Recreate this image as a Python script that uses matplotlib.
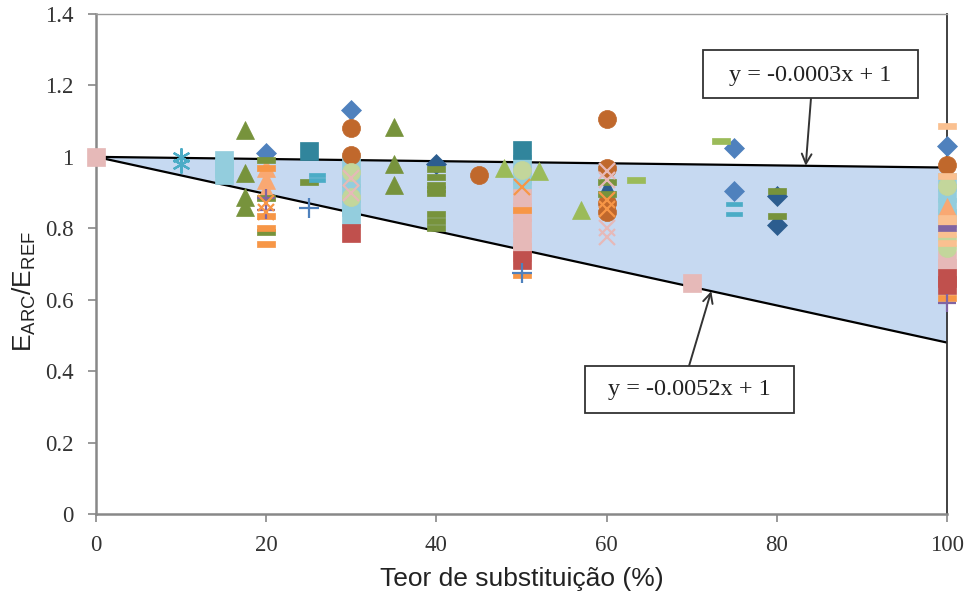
import matplotlib
matplotlib.use("Agg")
import matplotlib.pyplot as plt
from matplotlib.patches import Rectangle
from matplotlib.ticker import FuncFormatter

# ---------------- data ----------------
x_ticks = [0, 20, 40, 60, 80, 100]
y_ticks = [0, 0.2, 0.4, 0.6, 0.8, 1.0, 1.2, 1.4]

upper_slope, upper_icpt = -0.0003, 1.0
lower_slope, lower_icpt = -0.0052, 1.0
line_x = [0, 100]

# series (x, y)
ltblue_sq_x = [15, 15, 15, 30, 30, 30, 30, 30, 50, 50, 50, 100, 100, 100, 100]
ltblue_sq_y = [0.99, 0.97, 0.95, 0.98, 0.94, 0.90, 0.86, 0.83, 0.98, 0.95, 0.92, 0.93, 0.90, 0.86, 0.83]

pink_sq_x = [0, 50, 50, 50, 50, 50, 70, 100, 100]
pink_sq_y = [1.0, 0.885, 0.845, 0.80, 0.765, 0.735, 0.647, 0.71, 0.69]

cyan_ast_x = [10, 10]
cyan_ast_y = [1.0, 0.98]

olive_tri_x = [17.5, 17.5, 17.5, 17.5, 35, 35, 35]
olive_tri_y = [1.075, 0.955, 0.888, 0.86, 1.085, 0.98, 0.92]

ltgreen_tri_x = [48, 52, 57]
ltgreen_tri_y = [0.97, 0.96, 0.85]

teal_sq_x = [25, 50]
teal_sq_y = [1.017, 1.02]

blue_dia_x = [20, 30, 75, 75, 100]
blue_dia_y = [1.01, 1.13, 1.025, 0.905, 1.03]

dkblue_dia_x = [40, 80, 80]
dkblue_dia_y = [0.98, 0.89, 0.81]

dkblue_tri_x = [60]
dkblue_tri_y = [0.915]

olive_dash_x = [20, 20, 20, 25, 40, 40, 40, 40, 40, 40, 40, 40, 60, 60, 80, 80]
olive_dash_y = [0.99, 0.885, 0.79, 0.93, 0.965, 0.945, 0.92, 0.91, 0.90, 0.84, 0.82, 0.80, 0.93, 0.895, 0.905, 0.835]

ltgreen_dash_x = [63.5, 73.5]
ltgreen_dash_y = [0.935, 1.045]

orange_dash_x = [20, 20, 20, 20, 50, 50, 100]
orange_dash_y = [0.97, 0.835, 0.80, 0.755, 0.85, 0.67, 0.605]

peach_dash_x = [100, 100, 100, 100, 100, 100]
peach_dash_y = [1.087, 0.947, 0.83, 0.815, 0.785, 0.76]

teal_dash_x = [26, 26, 75, 75]
teal_dash_y = [0.95, 0.935, 0.868, 0.84]

purple_dash_x = [100]
purple_dash_y = [0.80]

brown_circ_x = [30, 30, 45, 60, 60, 60, 60, 100]
brown_circ_y = [1.08, 1.005, 0.95, 1.105, 0.97, 0.87, 0.845, 0.978]

ltgreen_circ_x = [30, 30, 50, 100, 100, 100]
ltgreen_circ_y = [0.958, 0.888, 0.963, 0.919, 0.773, 0.745]

ltorange_tri_x = [20, 20, 20, 100]
ltorange_tri_y = [0.97, 0.935, 0.905, 0.86]

red_sq_x = [30, 50, 100, 100]
red_sq_y = [0.787, 0.71, 0.66, 0.64]

purple_plus_x = [20, 20, 100]
purple_plus_y = [0.885, 0.85, 0.59]

blue_plus_x = [25, 50]
blue_plus_y = [0.857, 0.675]

pink_x_x = [30, 30, 60, 60, 60, 60]
pink_x_y = [0.94, 0.90, 0.96, 0.935, 0.80, 0.775]

orange_x_x = [20, 20, 50, 60, 60]
orange_x_y = [0.87, 0.845, 0.915, 0.88, 0.855]

upper_label = "y = -0.0003x + 1"
lower_label = "y = -0.0052x + 1"
x_label = "Teor de substituição (%)"

# ---------------- style ----------------
DASH = [(-1, -0.28), (1, -0.28), (1, 0.28), (-1, 0.28), (-1, -0.28)]
AST = (6, 2, 0)

series = [
    (ltblue_sq_x, ltblue_sq_y, 's', '#93cddd', 13),
    (pink_sq_x, pink_sq_y, 's', '#e6b9b8', 13.5),
    (cyan_ast_x, cyan_ast_y, AST, '#4bacc6', 13),
    (olive_tri_x, olive_tri_y, '^', '#77933c', 13),
    (ltgreen_tri_x, ltgreen_tri_y, '^', '#9bbb59', 13),
    (teal_sq_x, teal_sq_y, 's', '#31859c', 13),
    (blue_dia_x, blue_dia_y, 'D', '#4f81bd', 10),
    (dkblue_dia_x, dkblue_dia_y, 'D', '#2c5d8f', 10),
    (dkblue_tri_x, dkblue_tri_y, '^', '#2c5d8f', 11),
    (ltorange_tri_x, ltorange_tri_y, '^', '#f9a872', 13),
    (brown_circ_x, brown_circ_y, 'o', '#c0682c', 13),
    (ltgreen_circ_x, ltgreen_circ_y, 'o', '#c3d69b', 13),
    (red_sq_x, red_sq_y, 's', '#c0504d', 13),
    (olive_dash_x, olive_dash_y, DASH, '#77933c', 13),
    (ltgreen_dash_x, ltgreen_dash_y, DASH, '#9bbb59', 13),
    (orange_dash_x, orange_dash_y, DASH, '#f79646', 13),
    (peach_dash_x, peach_dash_y, DASH, '#fac090', 13),
    (teal_dash_x, teal_dash_y, DASH, '#4bacc6', 11),
    (purple_dash_x, purple_dash_y, DASH, '#8064a2', 13),
    (purple_plus_x, purple_plus_y, '+', '#8064a2', 13),
    (blue_plus_x, blue_plus_y, '+', '#4f81bd', 14),
    (pink_x_x, pink_x_y, 'x', '#e6b9b8', 12),
    (orange_x_x, orange_x_y, 'x', '#f79646', 12),
]

fig = plt.figure(figsize=(9.66, 5.91), dpi=100)
ax = fig.add_axes([96 / 966, 77 / 591, 851 / 966, 500 / 591])

up_y = [upper_icpt + upper_slope * v for v in line_x]
lo_y = [lower_icpt + lower_slope * v for v in line_x]
ax.fill_between(line_x, lo_y, up_y, color='#c6d9f1', zorder=1, lw=0)
ax.plot(line_x, up_y, color='black', lw=1.6, zorder=2, solid_capstyle='butt')
ax.plot(line_x, lo_y, color='black', lw=1.6, zorder=2, solid_capstyle='butt')

for xs, ys, mk, col, ms in series:
    line_markers = mk in ('+', 'x') or mk == AST
    if line_markers:
        ax.plot(xs, ys, ls='none', marker=mk, ms=ms, color=col, mew=1.6,
                clip_on=False, zorder=3)
    else:
        ax.plot(xs, ys, ls='none', marker=mk, ms=ms, color=col, mec=col,
                mew=0.5, clip_on=False, zorder=3)

ax.set_xlim(0, 100)
ax.set_ylim(0, 1.4)
ax.set_xticks(x_ticks)
ax.set_yticks(y_ticks)
ax.yaxis.set_major_formatter(FuncFormatter(lambda v, p: f"{v:g}"))

serif = 'Liberation Serif'
for lab in ax.get_xticklabels() + ax.get_yticklabels():
    lab.set_fontfamily(serif)
    lab.set_fontsize(16.5)
    lab.set_color('#333333')
ax.tick_params(axis='both', direction='out', length=6, width=1.2,
               color='#888888')
ax.tick_params(axis='y', pad=10)
ax.tick_params(axis='x', pad=9)

for side in ('left', 'bottom'):
    ax.spines[side].set_color('#888888')
    ax.spines[side].set_linewidth(1.8)
ax.spines['top'].set_color('#9a9a9a')
ax.spines['top'].set_linewidth(1.0)
ax.spines['right'].set_color('#333333')
ax.spines['right'].set_linewidth(1.3)

ax.set_xlabel(x_label, fontfamily='Liberation Sans', fontsize=19,
              color='#222222', labelpad=8)
fig.text(24 / 966, 1 - 292 / 591,
         r'E$_{\mathregular{ARC}}$/E$_{\mathregular{REF}}$',
         rotation=90, ha='center', va='center', fontsize=19,
         fontfamily='Liberation Sans', color='#222222')

arrow_style = dict(arrowstyle='->,head_length=0.7,head_width=0.35',
                   color='#333333', lw=1.4, shrinkA=0, shrinkB=0)

# upper box
fig.patches.append(Rectangle((703 / 966, 1 - 98 / 591), 215 / 966, 48 / 591,
                             transform=fig.transFigure, fc='white',
                             ec='#333333', lw=1.3))
fig.text((703 + 215 / 2) / 966, 1 - 75 / 591, upper_label, ha='center',
         va='center', fontfamily=serif, fontsize=17.5, color='#222222')
tip1 = 83.4
ax.annotate('', xy=(tip1, upper_icpt + upper_slope * tip1),
            xytext=(811 / 966, 1 - 98 / 591), textcoords='figure fraction',
            arrowprops=arrow_style, annotation_clip=False, zorder=4)

# lower box
fig.patches.append(Rectangle((585 / 966, 1 - 413 / 591), 209 / 966, 47 / 591,
                             transform=fig.transFigure, fc='white',
                             ec='#333333', lw=1.3))
fig.text((585 + 209 / 2) / 966, 1 - 390 / 591, lower_label, ha='center',
         va='center', fontfamily=serif, fontsize=17.5, color='#222222')
tip2 = 72.3
ax.annotate('', xy=(tip2, lower_icpt + lower_slope * tip2),
            xytext=(689 / 966, 1 - 366 / 591), textcoords='figure fraction',
            arrowprops=arrow_style, annotation_clip=False, zorder=4)

fig.savefig('out.png', dpi=100)
